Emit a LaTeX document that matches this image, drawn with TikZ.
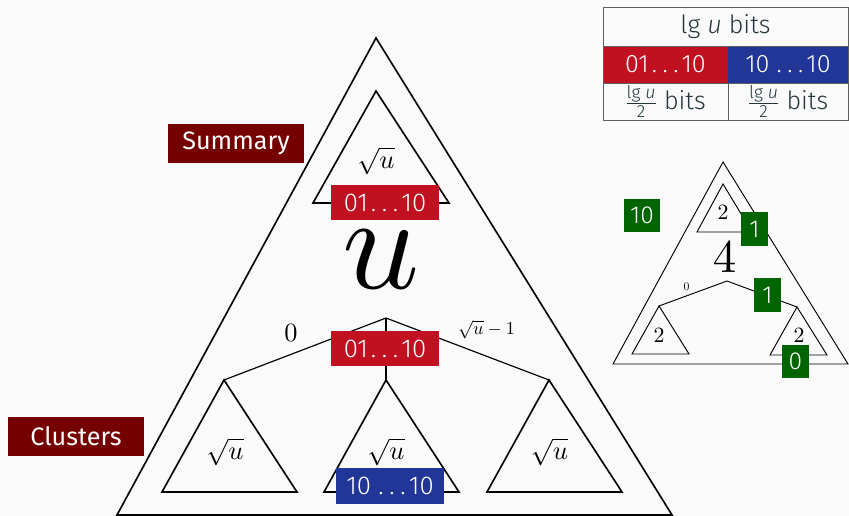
\documentclass[tikz,border=0pt]{standalone}
\usepackage{amsmath}
\usepackage[no-math]{fontspec}
\setmainfont{Fira Sans}[UprightFont=* Light, ItalicFont=* Light Italic]
\newfontfamily\tagfont{Fira Sans}
\definecolor{bitred}{RGB}{193,17,33}
\definecolor{bitblue}{RGB}{33,54,150}
\definecolor{tagred}{RGB}{117,0,0}
\definecolor{bitgreen}{RGB}{0,100,0}
\definecolor{bg}{RGB}{250,250,250}
\definecolor{tabtext}{RGB}{35,55,59}
\definecolor{tabline}{RGB}{95,95,95}
\newcommand{\bitdots}{\kern0.12em.\kern0.22em.\kern0.22em.\kern0.12em}
\begin{document}
\begin{tikzpicture}[x=0.03cm, y=-0.03cm, line join=miter,
  tri/.style={line width=1.4pt},
  edge/.style={line width=1pt},
  minitri/.style={line width=0.8pt},
  mathlbl/.style={inner sep=0pt, scale=#1},
  bitbox/.style={text=white, font=\fontsize{22}{26}\selectfont, minimum width=92pt, minimum height=30pt, inner sep=0pt},
  tag/.style={fill=tagred, text=white, font=\tagfont\fontsize{21.5}{26}\selectfont, minimum width=116pt, minimum height=33pt, inner sep=0pt},
  digit/.style={fill=bitgreen, text=white, font=\fontsize{21}{25}\selectfont, minimum width=23pt, minimum height=29pt, inner xsep=5pt, inner ysep=0pt},
  cell/.style={text=tabtext, font=\fontsize{21.5}{25}\selectfont, minimum height=31.6pt, inner sep=0pt}]
\fill[bg] (0,0) rectangle (849,516);
\useasboundingbox (0,0) rectangle (849,516);
% the universe of size u
\draw[tri] (376,38) -- (672,515) -- (117,515) -- cycle;
\draw[tri] (376,91) -- ++(73,112) -- ++(-136,0) -- cycle; % summary
\coordinate (root) at (386,318);
\coordinate (c0) at (224,380);
\coordinate (c1) at (386,380);
\coordinate (c2) at (549,380);
\foreach \c in {c0,c1,c2} {
  \draw[edge] (root) -- (\c);
  \draw[tri] (\c) -- ++(73,112) -- ++(-135,0) -- cycle;
}
\node[mathlbl=2.25] (sumroot) at (376,161) {$\sqrt{u}$};
\node[bitbox, fill=bitred] (sumbits) at (385,202.5) {01\bitdots10};
\node[mathlbl=11.5] (universe) at (381,259) {$u$};
\node[mathlbl=2.25] (first) at (291,333.5) {$0$};
\node[mathlbl=1.55] (last) at (486.5,329.5) {$\sqrt{u}-1$};
\node[bitbox, fill=bitred] (rootbits) at (385,348.5) {01\bitdots10};
\node[mathlbl=2.25] (cl0) at (225,452) {$\sqrt{u}$};
\node[mathlbl=2.25] (cl1) at (386,452) {$\sqrt{u}$};
\node[mathlbl=2.25] (cl2) at (549.5,452) {$\sqrt{u}$};
\node[bitbox, fill=bitblue] (lowbits) at (390,486) {10\,\bitdots10};
\node[tag] (summary) at (236,143.5) {Summary};
\node[tag] (clusters) at (76,436.5) {Clusters};
% small example, u = 4
\draw[minitri] (723,162) -- (848,364) -- (613,364) -- cycle;
\draw[minitri] (723,184) -- (752,232) -- (697,232) -- cycle;
\coordinate (mroot) at (727,281);
\coordinate (ml) at (659,306);
\coordinate (mr) at (797,307);
\draw[minitri] (ml) -- (mroot) -- (mr);
\foreach \c in {ml,mr}
  \draw[minitri] (\c) -- ++(30,48) -- ++(-57,0) -- cycle;
\node[mathlbl=1.86] (msum) at (723,212) {$2$};
\node[mathlbl=4] (muni) at (724.5,257) {$4$};
\node[mathlbl=1] (mfirst) at (686.5,287) {$0$};
\node[mathlbl=1.86] (ml2) at (659,335.5) {$2$};
\node[mathlbl=1.86] (mr2) at (799,335) {$2$};
\node[digit] (key) at (642,215.5) {10};
\node[digit] (sumbit) at (754.5,229) {1};
\node[digit] (hibit) at (767.5,295) {1};
\node[digit] (lobit) at (795.5,361.5) {0};
% bit layout of a key
\node[cell] (head) at (725.5,26.5) {lg \textit{u} bits};
\node[cell, fill=bitred, text=white, minimum width=106.7pt] (hicell) at (665.5,64.5) {01\bitdots10};
\node[cell, fill=bitblue, text=white, minimum width=102.4pt] (locell) at (788,64.5) {10\,\bitdots10};
\node[cell] (hilen) at (665.5,101.5) {$\frac{\text{lg \textit{u}}}{\text{2}}$ bits};
\node[cell] (lolen) at (788,101.5) {$\frac{\text{lg \textit{u}}}{\text{2}}$ bits};
\draw[tabline, line width=0.8pt] (603,7) rectangle (848,120);
\draw[tabline, line width=0.8pt] (603,46) -- (848,46) (603,83) -- (848,83) (728,83) -- (728,120);
\end{tikzpicture}
\end{document}
